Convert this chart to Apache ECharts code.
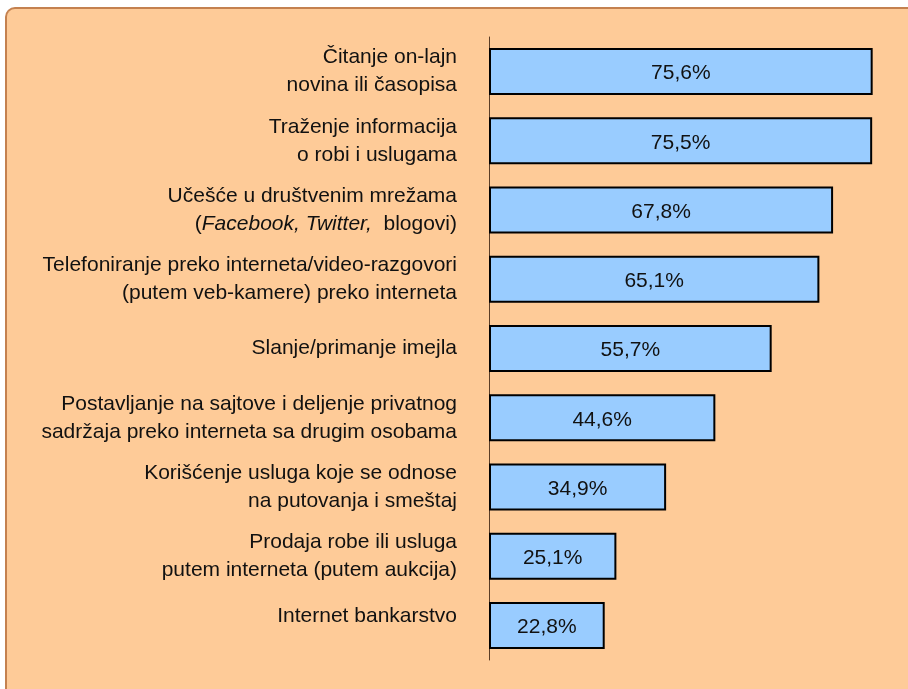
<!DOCTYPE html>
<html>
<head>
<meta charset="utf-8">
<script src="https://cdn.jsdelivr.net/npm/echarts@6/dist/echarts.min.js"></script>
<style>
  html, body { margin: 0; padding: 0; background: #fff; overflow: hidden; }
  #frame {
    position: absolute; left: 5px; top: 7px; width: 960px; height: 720px;
    background: #fecb98;
    border-top: 2px solid #c4814f; border-left: 2px solid #c4814f;
    border-top-left-radius: 10px;
  }
  #chart { position: absolute; left: 0; top: 0; width: 908px; height: 689px; }
</style>
</head>
<body>
<div id="frame"></div>
<div id="chart"></div>
<script>
  const categories = [
    'Čitanje on-lajn\nnovina ili časopisa',
    'Traženje informacija\no robi i uslugama',
    'Učešće u društvenim mrežama\n({i|Facebook, Twitter,}  blogovi)',
    'Telefoniranje preko interneta/video-razgovori\n(putem veb-kamere) preko interneta',
    'Slanje/primanje imejla',
    'Postavljanje na sajtove i deljenje privatnog\nsadržaja preko interneta sa drugim osobama',
    'Korišćenje usluga koje se odnose\nna putovanja i smeštaj',
    'Prodaja robe ili usluga\nputem interneta (putem aukcija)',
    'Internet bankarstvo'
  ];
  const values = [75.6, 75.5, 67.8, 65.1, 55.7, 44.6, 34.9, 25.1, 22.8];

  const font = '"Liberation Sans", Arial, sans-serif';
  const chart = echarts.init(document.getElementById('chart'));

  chart.setOption({
    backgroundColor: 'transparent',
    animation: false,
    grid: { left: 489, right: 13, top: 37, bottom: 29, containLabel: false },
    xAxis: {
      type: 'value',
      min: 0,
      max: 80,
      show: false
    },
    yAxis: {
      type: 'category',
      inverse: true,
      data: categories.map((c, i) => i === categories.length - 1
        ? { value: c, textStyle: { padding: [0, 0, 18, 0] } }
        : c),
      axisLine: { show: true, lineStyle: { color: '#5a3d26', width: 1 } },
      axisTick: { show: false },
      splitLine: { show: false },
      axisLabel: {
        margin: 32,
        fontSize: 21,
        lineHeight: 28,
        color: '#111',
        fontFamily: font,
        align: 'right',
        rich: {
          i: { fontStyle: 'italic', fontSize: 21, lineHeight: 28, color: '#111', fontFamily: font }
        }
      }
    },
    series: [{
      type: 'bar',
      data: values,
      barWidth: 47,
      itemStyle: { color: '#99ccff', borderColor: '#000', borderWidth: 2 },
      label: {
        show: true,
        position: 'inside',
        offset: [0, 2],
        fontSize: 21,
        color: '#111',
        fontFamily: font,
        formatter: p => p.value.toFixed(1).replace('.', ',') + '%'
      }
    }]
  });
</script>
</body>
</html>
